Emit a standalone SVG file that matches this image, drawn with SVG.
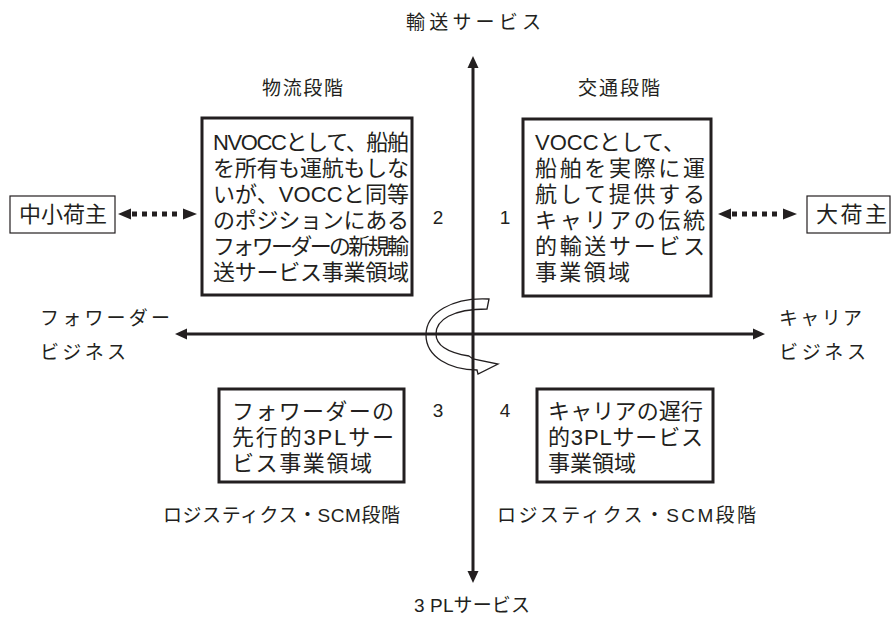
<svg xmlns="http://www.w3.org/2000/svg" width="892" height="618" viewBox="0 0 892 618">
<defs>
<style>
text{font-family:"Liberation Sans","Noto Sans CJK JP",sans-serif;fill:#231f20}
.bt{font-size:22px}
.lb{font-size:19px}
.num{font-size:19px}
.box{fill:#fff;stroke:#231f20;stroke-width:3}
.sbox{fill:#fff;stroke:#231f20;stroke-width:1.2}
.axis{stroke:#231f20;stroke-width:3;fill:none}
.dot{stroke:#231f20;stroke-width:5;stroke-dasharray:5 5;fill:none}
.head{fill:#231f20}
</style>
</defs>
<g id="connectors">
<line class="axis" x1="473" y1="66" x2="473" y2="573"/>
<polygon class="head" points="473,56 467.5,68 478.5,68"/>
<polygon class="head" points="473,583 467.5,571 478.5,571"/>
<line class="axis" x1="185" y1="334" x2="755" y2="334"/>
<polygon class="head" points="175,334 187,328.5 187,339.5"/>
<polygon class="head" points="765,334 753,328.5 753,339.5"/>
<line class="dot" x1="132" y1="214" x2="180" y2="214"/>
<polygon class="head" points="118,214 131,208.5 131,219.5"/>
<polygon class="head" points="197,214 183,208.5 183,219.5"/>
<line class="dot" x1="732" y1="214" x2="781" y2="214"/>
<polygon class="head" points="718,214 731,208.5 731,219.5"/>
<polygon class="head" points="797,214 783,208.5 783,219.5"/>
<path d="M489,299 C452,297 426,313 426,335 C426,357 450,370 477,370 L478,374 L498,364 L473,359 L469,356 C450,353 436,346 436,334 C436,320 452,309 487,309 Z" fill="none" stroke="#231f20" stroke-width="1.3"/>
</g>
<g id="axis-labels">
<text class="lb" x="406" y="29" textLength="135" lengthAdjust="spacing">輸送サービス</text>
<text class="lb" x="414" y="612" textLength="116" lengthAdjust="spacing">3 PLサービス</text>
<text class="lb" x="40" y="325" textLength="130" lengthAdjust="spacing">フォワーダー</text>
<text class="lb" x="40" y="359" textLength="86" lengthAdjust="spacing">ビジネス</text>
<text class="lb" x="779" y="325" textLength="83" lengthAdjust="spacing">キャリア</text>
<text class="lb" x="779" y="359" textLength="87" lengthAdjust="spacing">ビジネス</text>
<text class="lb" x="262" y="95" textLength="81" lengthAdjust="spacing">物流段階</text>
<text class="lb" x="578" y="95" textLength="82" lengthAdjust="spacing">交通段階</text>
<text class="lb" x="163" y="522" textLength="237" lengthAdjust="spacing">ロジスティクス・SCM段階</text>
<text class="lb" x="497" y="522" textLength="259" lengthAdjust="spacing">ロジスティクス・SCM段階</text>
<text class="num" x="438" y="224" text-anchor="middle">2</text>
<text class="num" x="505" y="224" text-anchor="middle">1</text>
<text class="num" x="438" y="417" text-anchor="middle">3</text>
<text class="num" x="505" y="417" text-anchor="middle">4</text>
</g>
<g id="shipper-small">
<rect class="sbox" x="10" y="196" width="105" height="37"/>
<text class="bt" x="19" y="222" textLength="88" lengthAdjust="spacing">中小荷主</text>
</g>
<g id="shipper-large">
<rect class="sbox" x="807" y="196" width="83" height="37"/>
<text class="bt" x="816" y="222" textLength="71" lengthAdjust="spacing">大荷主</text>
</g>
<g id="q2">
<rect class="box" x="202" y="118" width="210" height="177"/>
<text class="bt" x="213" y="150" textLength="196" lengthAdjust="spacing">NVOCCとして、船舶</text>
<text class="bt" x="213" y="176" textLength="196" lengthAdjust="spacing">を所有も運航もしな</text>
<text class="bt" x="213" y="202" textLength="196" lengthAdjust="spacing">いが、VOCCと同等</text>
<text class="bt" x="213" y="228" textLength="196" lengthAdjust="spacing">のポジションにある</text>
<text class="bt" x="213" y="254" textLength="196" lengthAdjust="spacing">フォワーダーの新規輸</text>
<text class="bt" x="213" y="280" textLength="196" lengthAdjust="spacing">送サービス事業領域</text>
</g>
<g id="q1">
<rect class="box" x="523" y="119" width="188" height="177"/>
<text class="bt" x="535" y="150" textLength="150" lengthAdjust="spacing">VOCCとして、</text>
<text class="bt" x="535" y="176" textLength="170" lengthAdjust="spacing">船舶を実際に運</text>
<text class="bt" x="535" y="202" textLength="170" lengthAdjust="spacing">航して提供する</text>
<text class="bt" x="535" y="228" textLength="170" lengthAdjust="spacing">キャリアの伝統</text>
<text class="bt" x="535" y="254" textLength="170" lengthAdjust="spacing">的輸送サービス</text>
<text class="bt" x="535" y="280" textLength="95" lengthAdjust="spacing">事業領域</text>
</g>
<g id="q3">
<rect class="box" x="219" y="389" width="185" height="93"/>
<text class="bt" x="232" y="419" textLength="162" lengthAdjust="spacing">フォワーダーの</text>
<text class="bt" x="232" y="445" textLength="162" lengthAdjust="spacing">先行的3PLサー</text>
<text class="bt" x="232" y="471" textLength="140" lengthAdjust="spacing">ビス事業領域</text>
</g>
<g id="q4">
<rect class="box" x="537" y="389" width="176" height="93"/>
<text class="bt" x="548" y="419" textLength="155" lengthAdjust="spacing">キャリアの遅行</text>
<text class="bt" x="548" y="445" textLength="155" lengthAdjust="spacing">的3PLサービス</text>
<text class="bt" x="548" y="471" textLength="88" lengthAdjust="spacing">事業領域</text>
</g>
</svg>
